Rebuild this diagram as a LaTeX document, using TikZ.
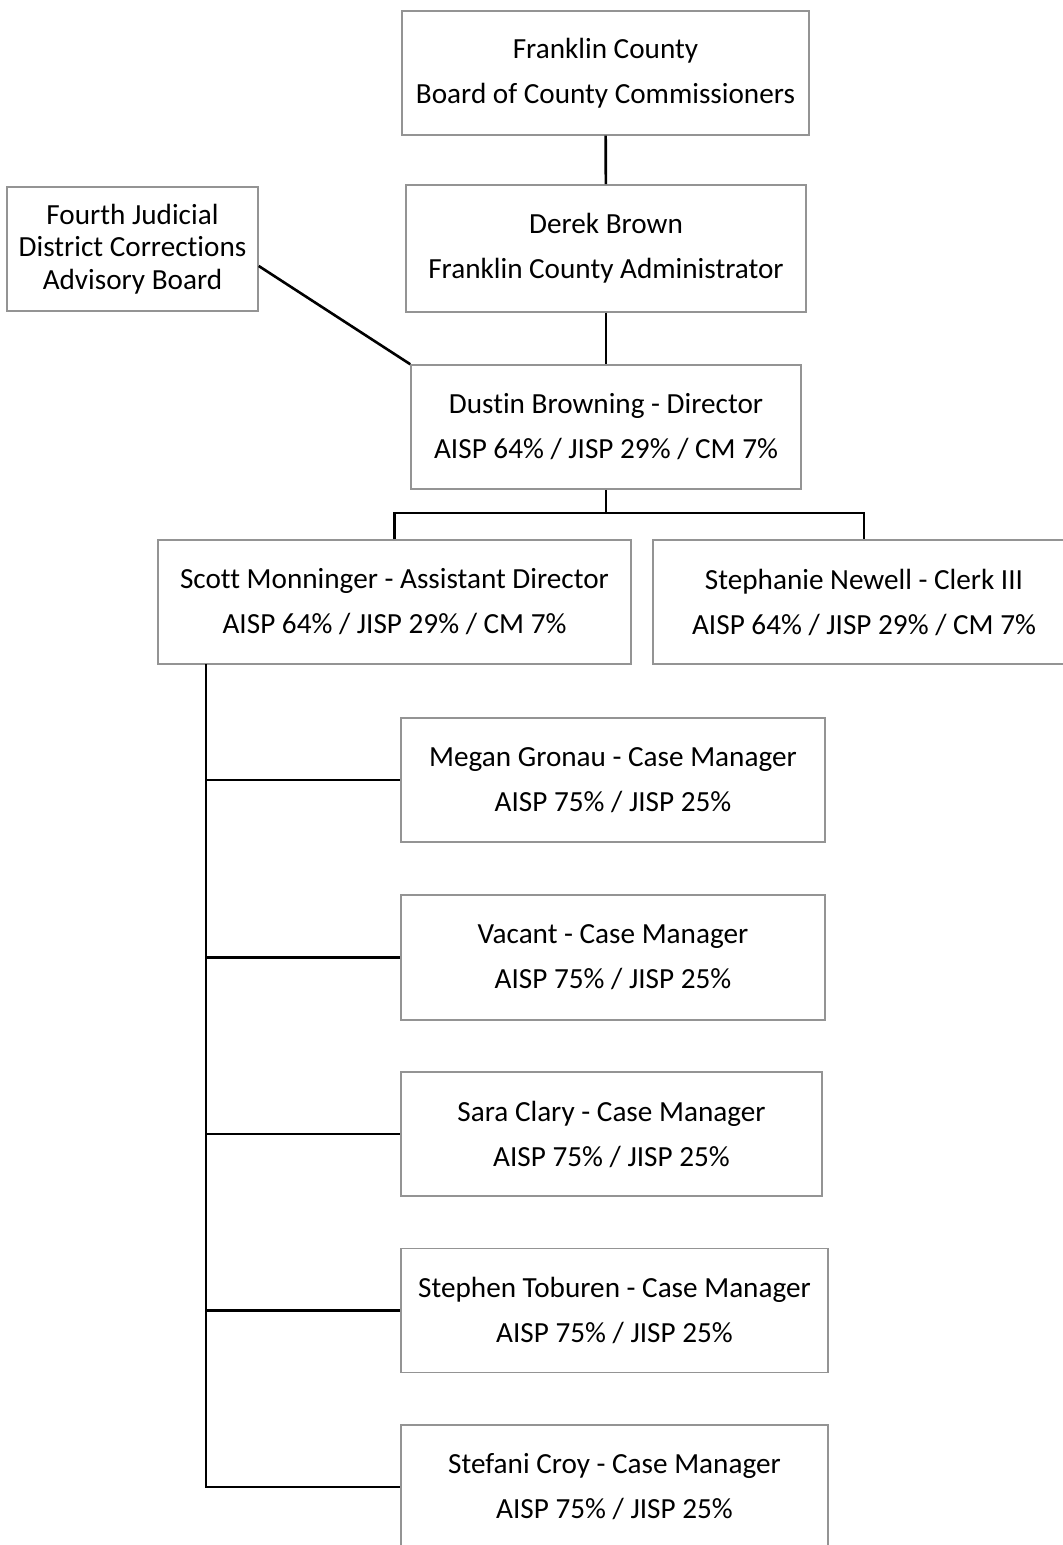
\documentclass[tikz,border=0pt]{standalone}
\usepackage{fontspec}
\setmainfont{Carlito}[Ligatures=NoCommon]
\tikzset{
  box/.style={draw=black!42, line width=0.75pt, fill=white, align=center, inner sep=0pt,
    minimum height=62pt, font=\fontsize{14.6}{22.5}\selectfont},
  link/.style={line width=1.3pt, black}
}
\begin{document}
\begin{tikzpicture}[x=0.5pt,y=-0.5pt]
  \useasboundingbox (0,0) rectangle (1063,1545);
  % top of the chart
  \node[box, minimum width=203.5pt] (board) at (605.5,73) {Franklin County\\Board of County Commissioners};
  \node[box, minimum width=200pt, minimum height=63.5pt] (admin) at (606,248.5) {Derek Brown\\Franklin County Administrator};
  \node[box, minimum width=125.5pt, font=\fontsize{14.6}{16.3}\selectfont] (advisory) at (132.5,249) {Fourth Judicial\\District Corrections\\Advisory Board};
  \node[box, minimum width=195pt] (director) at (606,427) {Dustin Browning - Director\\AISP 64\% / JISP 29\% / CM 7\%};
  \draw[link] (board) -- (admin);
  \draw[link] (admin) -- (director);
  \draw[link] ([yshift=-8.5pt]advisory.east) -- (director.north west);
  % second row
  \node[box, minimum width=236.5pt] (asst) at (394.5,602) {Scott Monninger - Assistant Director\\AISP 64\% / JISP 29\% / CM 7\%};
  \node[box, minimum width=211pt] (clerk) at (864,602) {Stephanie Newell - Clerk III\\AISP 64\% / JISP 29\% / CM 7\%};
  \coordinate (bar) at (606,513);
  \draw[link] (director) -- (bar);
  \draw[link] (asst.north) |- (bar) -| (clerk.north);
  % case managers
  \node[box, minimum width=212pt] (cm1) at (613,780) {Megan Gronau - Case Manager\\AISP 75\% / JISP 25\%};
  \node[box, minimum width=212pt, minimum height=62.5pt] (cm2) at (613,957.5) {Vacant - Case Manager\\AISP 75\% / JISP 25\%};
  \node[box, minimum width=210.5pt] (cm3) at (611.5,1134) {Sara Clary - Case Manager\\AISP 75\% / JISP 25\%};
  \node[box, minimum width=213.5pt] (cm4) at (614.5,1310.5) {Stephen Toburen - Case Manager\\AISP 75\% / JISP 25\%};
  \node[box, minimum width=213.5pt] (cm5) at (614.5,1487) {Stefani Croy - Case Manager\\AISP 75\% / JISP 25\%};
  \coordinate (trunk) at (206,664);
  \foreach \i in {1,...,5}
    \draw[link] (trunk) |- (cm\i.west);
\end{tikzpicture}
\end{document}
